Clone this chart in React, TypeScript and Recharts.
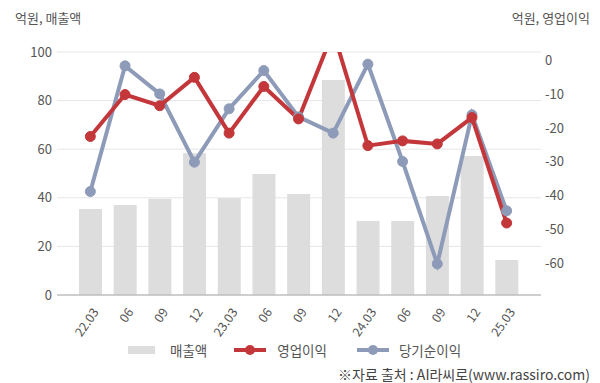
import { Bar, CartesianGrid, ComposedChart, Line, XAxis, YAxis } from "recharts";

const quarters = ["22.03", "06", "09", "12", "23.03", "06", "09", "12", "24.03", "06", "09", "12", "25.03"];
const revenue = [35.4, 37, 39.6, 58.3, 39.8, 49.8, 41.6, 88.5, 30.5, 30.5, 40.7, 57.2, 14.4];
const opProfit = [-22.5, -10.1, -13.4, -5.0, -21.5, -7.7, -17.3, 8.5, -25.2, -23.8, -24.7, -16.9, -48.1];
const netProfit = [-38.8, -1.6, -9.9, -30.1, -14.3, -3.0, -16.7, -21.5, -1.1, -29.9, -60.2, -16.1, -44.5];
const leftTicks = [0, 20, 40, 60, 80, 100];
const rightTicks = [0, -10, -20, -30, -40, -50, -60];

const RED = "#c3373b";
const BLUE = "#8e9bb8";
const BAR = "#dddddd";
const FONT = "'Noto Sans CJK KR', 'Noto Sans', sans-serif";

const data = quarters.map((q, i) => ({
  q,
  revenue: revenue[i],
  op: opProfit[i],
  net: netProfit[i],
}));

function QuarterTick({ x, y, payload }: any) {
  const tx = x + 9;
  const ty = y + 9;
  return (
    <text
      x={tx}
      y={ty}
      transform={`rotate(-55 ${tx} ${ty})`}
      textAnchor="end"
      fontSize={12.5}
      fill="#555"
      fontFamily={FONT}
    >
      {payload.value}
    </text>
  );
}

function LegendLine({ color }: { color: string }) {
  return (
    <svg width={32} height={12} style={{ display: "block" }}>
      <line x1={0} y1={6} x2={32} y2={6} stroke={color} strokeWidth={4} />
      <circle cx={16} cy={6} r={5} fill={color} />
    </svg>
  );
}

export default function App() {
  return (
    <div style={{ position: "relative", width: 600, height: 383, fontFamily: FONT, background: "#fff" }}>
      <style>{"body{margin:0}"}</style>
      <div style={{ position: "absolute", left: 15, top: 8, fontSize: 13, color: "#555" }}>억원, 매출액</div>
      <div style={{ position: "absolute", right: 10, top: 8, fontSize: 13, color: "#555" }}>억원, 영업이익</div>
      <ComposedChart width={600} height={383} data={data} margin={{ top: 52, right: 0, left: 0, bottom: 43 }}>
        <CartesianGrid yAxisId="left" vertical={false} stroke="#e6e6e6" />
        <XAxis
          dataKey="q"
          height={45}
          padding={{ left: 16, right: 17 }}
          tickLine={false}
          axisLine={{ stroke: "#aaa" }}
          interval={0}
          tick={<QuarterTick />}
        />
        <YAxis
          yAxisId="left"
          width={57}
          domain={[0, 100]}
          ticks={leftTicks}
          tickLine={false}
          axisLine={false}
          tickSize={0}
          tickMargin={5}
          tick={{ fontSize: 13, fill: "#555", fontFamily: FONT }}
        />
        <YAxis
          yAxisId="right"
          orientation="right"
          width={59}
          domain={[-69.4, 2.5]}
          allowDataOverflow
          ticks={rightTicks}
          tickLine={false}
          axisLine={false}
          tickSize={0}
          tickMargin={4}
          tick={{ fontSize: 13, fill: "#555", fontFamily: FONT, textAnchor: "start" }}
        />
        <Bar yAxisId="left" dataKey="revenue" fill={BAR} barSize={23} isAnimationActive={false} />
        <Line
          yAxisId="right"
          dataKey="net"
          stroke={BLUE}
          strokeWidth={4}
          dot={{ r: 5, fill: BLUE, stroke: BLUE, strokeWidth: 1 }}
          activeDot={false}
          isAnimationActive={false}
        />
        <Line
          yAxisId="right"
          dataKey="op"
          stroke={RED}
          strokeWidth={4}
          dot={{ r: 5, fill: RED, stroke: RED, strokeWidth: 1 }}
          activeDot={false}
          isAnimationActive={false}
        />
      </ComposedChart>
      <div
        style={{
          position: "absolute",
          top: 341,
          left: 128,
          height: 18,
          display: "flex",
          alignItems: "center",
          fontSize: 13.5,
          color: "#555",
        }}
      >
        <span style={{ display: "block", width: 27, height: 8, background: BAR, marginRight: 15 }} />
        <span style={{ marginRight: 27 }}>매출액</span>
        <LegendLine color={RED} />
        <span style={{ marginLeft: 11, marginRight: 30 }}>영업이익</span>
        <LegendLine color={BLUE} />
        <span style={{ marginLeft: 10 }}>당기순이익</span>
      </div>
      <div style={{ position: "absolute", right: 10, top: 364, fontSize: 14, color: "#444" }}>
        ※자료 출처 : AI라씨로(www.rassiro.com)
      </div>
    </div>
  );
}
